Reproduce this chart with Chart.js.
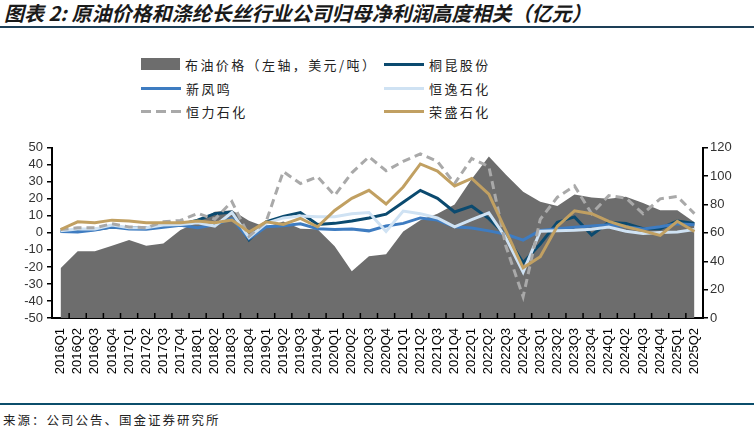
<!DOCTYPE html>
<html>
<head>
<meta charset="utf-8">
<script src="https://cdn.jsdelivr.net/npm/chart.js@4.4.1/dist/chart.umd.min.js"></script>
<style>
  body { margin: 0; background: #fff; }
  #page { position: relative; width: 754px; height: 438px; overflow: hidden; font-family: 'Noto Sans CJK SC', sans-serif; }
  .title { position: absolute; left: 4px; top: 0; font-size: 20px; line-height: 26px; font-weight: bold; font-style: italic; color: #1a1a1a; white-space: nowrap; }
  .rule { position: absolute; left: 0; width: 754px; height: 2px; background: #1d3f57; }
  .legend-item { position: absolute; height: 20px; display: flex; align-items: center; font-size: 13px; letter-spacing: 2.4px; color: #222; white-space: nowrap; }
  .swatch { width: 40px; margin-right: 5px; }
  #wrap { position: absolute; left: 0; top: 136px; width: 754px; height: 270px; }
  .source { position: absolute; left: 3px; top: 410px; font-size: 12.5px; letter-spacing: 2px; color: #222; }
</style>
</head>
<body>
<div id="page">
  <div class="title">图表 2: 原油价格和涤纶长丝行业公司归母净利润高度相关（亿元）</div>
  <div class="rule" style="top:26px"></div>
  <div id="legend"></div>
  <div id="wrap"><canvas id="chart" width="754" height="270"></canvas></div>
  <div class="rule" style="top:403px; background:#0b4d6b"></div>
  <div class="source">来源：公司公告、国金证券研究所</div>
</div>
<script>
const quarters = ['2016Q1', '2016Q2', '2016Q3', '2016Q4', '2017Q1', '2017Q2', '2017Q3', '2017Q4',
  '2018Q1', '2018Q2', '2018Q3', '2018Q4', '2019Q1', '2019Q2', '2019Q3', '2019Q4',
  '2020Q1', '2020Q2', '2020Q3', '2020Q4', '2021Q1', '2021Q2', '2021Q3', '2021Q4',
  '2022Q1', '2022Q2', '2022Q3', '2022Q4', '2023Q1', '2023Q2', '2023Q3', '2023Q4',
  '2024Q1', '2024Q2', '2024Q3', '2024Q4', '2025Q1', '2025Q2']

// right axis
const brentPrice = [35, 47, 47, 51, 55, 51, 52.5, 62, 67.5, 75, 76, 68.5, 64, 68, 63, 62.5,
  50.5, 33, 43.5, 45, 61, 69, 73.5, 80, 98, 113.8, 101, 89, 82, 79, 87, 85, 84, 85.5, 81, 76, 76, 67.5]

// left axis, 亿元
const tongkun = [1, 1.5, 2, 3.5, 3, 3, 4, 5, 7.5, 11.3, 12.3, -4, 6.5, 9.7, 11.9, 5,
  5.6, 7, 8.8, 11, 18, 25, 20.3, 12.3, 15.7, 8.4, -1.5, -17.5, -6.5, 6.3, 9.4, -1.2, 6.3, 5.6, 2.5, 2.5, 6.9, 5.6]
const xinfengming = [0.8, 0.5, 1.7, 3.5, 2.3, 2.1, 3.3, 4.5, 3, 4.8, 8.4, -3.5, 3.6, 4.2, 5.3, 2.4,
  2, 2.3, 1.2, 4, 5.6, 8.8, 7.5, 3.6, 2.9, 1.2, -0.8, -4.2, 1.5, 2.5, 3.3, 4, 4.8, 3.6, 2.3, 3.6, 5.4, 4.8]
const hengyi = [1.2, 2.3, 2.3, 4.6, 3, 3, 4.6, 5, 6, 4, 12, -2.7, 5.6, 8.8, 10, 9.5,
  9.5, 11.3, 12, 0.8, 12.8, 11.3, 8.8, 3.6, 7.8, 11.8, -3, -23, 1, 1.2, 1.5, 2.2, 3.5, 1, -0.3, 0.3, 0.6, 2]
const hengli = [2, 3, 3, 5.4, 3.5, 3, 6.5, 7.3, 11.5, 8, 18.4, -2, 6.7, 36, 29, 33,
  22, 35.3, 44.7, 36.5, 42, 46.4, 42, 29, 43.7, 39, -8, -37.5, 8, 21, 27.6, 11.3, 21.9, 20.5, 11.3, 20, 21.4, 11.3]
const rongsheng = [2, 6.5, 6, 7.5, 7, 6, 6, 6, 7, 6, 7.5, 0.5, 6.5, 5, 8.5, 3.6,
  13.2, 20.3, 25, 17, 27, 40.5, 36.3, 27.6, 32, 22.8, 1, -20.5, -14, 4, 13, 11.3, 6.8, 3.6, 1.2, -1.5, 6.8, 0.8]

const seriesNames = ['布油价格（左轴，美元/吨）', '桐昆股份', '新凤鸣', '恒逸石化', '恒力石化', '荣盛石化']

const lineSeries = [
  { label: seriesNames[1], data: tongkun, borderColor: '#0b4a6f', order: 5 },
  { label: seriesNames[2], data: xinfengming, borderColor: '#3e7cc1', order: 4 },
  { label: seriesNames[3], data: hengyi, borderColor: '#cfe2f3', order: 3 },
  { label: seriesNames[4], data: hengli, borderColor: '#a9a9a9', borderDash: [8, 5], order: 2 },
  { label: seriesNames[5], data: rongsheng, borderColor: '#c1a062', order: 1 },
]

// html legend, two columns
const legendEl = document.getElementById('legend')
const swatches = [
  'height:12px;width:39px;background:#6d6d6d',
  'height:3px;background:#0b4a6f',
  'height:3px;background:#3e7cc1',
  'height:3px;background:#cfe2f3',
  'height:3px;background:repeating-linear-gradient(to right,#a9a9a9 0 10px,transparent 10px 15px)',
  'height:3px;background:#c1a062',
]
seriesNames.forEach((name, i) => {
  const item = document.createElement('div')
  item.className = 'legend-item'
  item.style.left = (i % 2 === 0 ? 141 : 384) + 'px'
  item.style.top = [54, 78, 101][Math.floor(i / 2)] + 'px'
  item.innerHTML = '<div class="swatch" style="' + swatches[i] + '"></div><span>' + name + '</span>'
  legendEl.appendChild(item)
})

// bottom axis ticks point inward, excel style
const innerTicks = {
  id: 'innerTicks',
  afterDatasetsDraw(chart) {
    const { ctx, chartArea, scales } = chart
    const x = scales.x
    const step = x.getPixelForValue(1) - x.getPixelForValue(0)
    ctx.save()
    ctx.strokeStyle = '#000'
    ctx.lineWidth = 1.5
    for (let i = 1; i < quarters.length; i++) {
      const px = x.getPixelForValue(i) - step / 2
      ctx.beginPath()
      ctx.moveTo(px, chartArea.bottom)
      ctx.lineTo(px, chartArea.bottom - 5)
      ctx.stroke()
    }
    ctx.restore()
  }
}

Chart.defaults.font.family = "'Liberation Sans', Arial, sans-serif"

new Chart(document.getElementById('chart'), {
  type: 'line',
  data: {
    labels: quarters,
    datasets: [
      {
        label: seriesNames[0],
        data: brentPrice,
        yAxisID: 'y2',
        fill: 'origin',
        backgroundColor: '#6d6d6d',
        borderColor: '#6d6d6d',
        borderWidth: 0,
        pointRadius: 0,
        order: 6,
      },
      ...lineSeries.map(s => Object.assign({
        yAxisID: 'y',
        fill: false,
        borderWidth: 3,
        pointRadius: 0,
        tension: 0,
      }, s))
    ]
  },
  options: {
    responsive: false,
    animation: false,
    layout: { padding: { top: 8, left: 0, right: 0, bottom: 0 } },
    plugins: {
      legend: { display: false },
      tooltip: { enabled: false },
    },
    scales: {
      x: {
        offset: true,
        afterFit: s => { s.height = 88 },
        grid: { display: false, drawTicks: false },
        border: { display: true, color: '#000', width: 2 },
        ticks: {
          autoSkip: false,
          minRotation: 90,
          maxRotation: 90,
          padding: 10,
          color: '#000',
          font: { size: 13 },
        }
      },
      y: {
        position: 'left',
        min: -50,
        max: 50,
        afterFit: s => { s.width = 52 },
        grid: { drawOnChartArea: false, tickLength: 5, color: '#000', lineWidth: 1.5 },
        border: { display: true, color: '#000', width: 2 },
        ticks: { stepSize: 10, autoSkip: false, padding: 4, color: '#333', font: { size: 13 } }
      },
      y2: {
        position: 'right',
        min: 0,
        max: 120,
        afterFit: s => { s.width = 51 },
        grid: { drawOnChartArea: false, tickLength: 5, color: '#000', lineWidth: 1.5 },
        border: { display: true, color: '#000', width: 2 },
        ticks: { stepSize: 20, autoSkip: false, padding: 2, color: '#333', font: { size: 13 } }
      }
    }
  },
  plugins: [innerTicks]
})
</script>
</body>
</html>
